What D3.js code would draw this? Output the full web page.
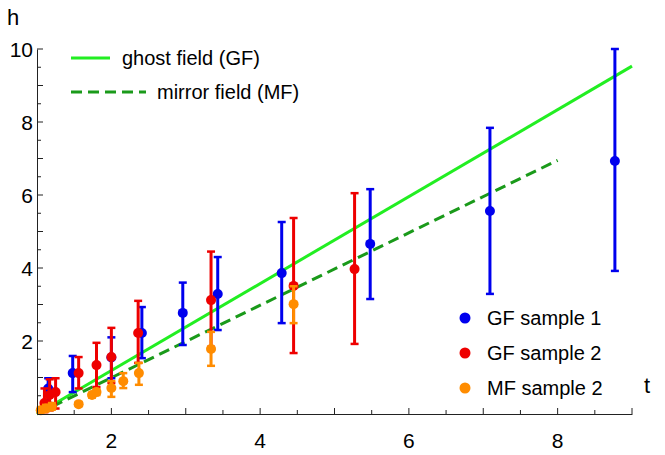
<!DOCTYPE html><html><head><meta charset="utf-8">
<script src="https://d3js.org/d3.v7.min.js"></script>
<style>body{margin:0;background:#fff}text{font-family:"Liberation Sans",Arial,sans-serif}</style></head><body>
<svg id="c" width="665" height="455"></svg>
<script>
// [t, h, lower, upper]
const gf1 = [[1.15,0.7,0.3,0.98],[1.48,1.12,0.6,1.59],[2.0,1.55,0.98,2.1],[2.41,2.22,1.53,2.93],[2.96,2.77,1.89,3.6],[3.43,3.29,2.3,4.3],[4.29,3.86,2.49,5.26],[5.48,4.66,3.15,6.16],[7.09,5.56,3.29,7.84],[8.77,6.93,3.92,10.0]];
const gf2 = [[1.1,0.3,0.05,0.7],[1.17,0.52,0.1,0.95],[1.25,0.6,0.15,0.98],[1.56,1.12,0.7,1.56],[1.8,1.34,0.74,1.95],[2.0,1.56,0.85,2.36],[2.36,2.22,1.4,3.1],[3.34,3.12,1.84,4.45],[4.45,3.51,1.67,5.37],[5.27,3.97,1.92,6.05]];
const mf2 = [[1.05,0.1,0.05,0.18],[1.12,0.15,0.08,0.25],[1.2,0.2,0.12,0.3],[1.56,0.27,0.22,0.32],[1.74,0.52,0.45,0.58],[1.8,0.6,0.52,0.68],[2.0,0.71,0.47,0.9],[2.16,0.9,0.71,1.12],[2.37,1.12,0.8,1.4],[3.34,1.78,1.32,2.25],[4.45,3.01,2.49,3.5]];
const gfLine = [[1,0],[9,9.53]];
const mfLine = [[1,0],[8,6.95]];
const xTicks = [2,4,6,8], yTicks = [2,4,6,8,10];
const series = [{name:"GF sample 1",data:gf1,color:"#0000ee"},{name:"GF sample 2",data:gf2,color:"#ee0000"},{name:"MF sample 2",data:mf2,color:"#ff8c00"}];

const svg = d3.select("#c");
const x = d3.scaleLinear().domain([1,9]).range([37,632]);
const y = d3.scaleLinear().domain([0,10]).range([414,49]);
const g = svg.append("g");
// axes
const xa = svg.append("g").attr("transform","translate(0,414)");
xa.call(d3.axisBottom(x).tickValues([]).tickSize(0));
xa.selectAll("line.mn").data(d3.range(1.5,9.01,0.5)).join("line").attr("x1",d=>x(d)).attr("x2",d=>x(d)).attr("y1",0).attr("y2",d=>Number.isInteger(d)?-6:-4).attr("stroke","#222");
xa.selectAll("text.tl").data(xTicks).join("text").attr("x",d=>x(d)).attr("y",34).attr("fill","#000").attr("text-anchor","middle").attr("font-size",21).attr("font-family","Liberation Sans, Arial, sans-serif").text(d=>d);
const ya = svg.append("g").attr("transform","translate(37,0)");
ya.call(d3.axisLeft(y).tickValues([]).tickSize(0));
ya.selectAll("line.mn").data(d3.range(0.5,10.01,0.5)).join("line").attr("y1",d=>y(d)).attr("y2",d=>y(d)).attr("x1",0).attr("x2",d=>Number.isInteger(d)?6:4).attr("stroke","#222");
ya.selectAll("text.tl").data(yTicks).join("text").attr("x",-4).attr("y",d=>y(d)+8).attr("fill","#000").attr("text-anchor","end").attr("font-size",21).attr("font-family","Liberation Sans, Arial, sans-serif").text(d=>d);
svg.selectAll(".domain").attr("stroke","#222");
svg.append("text").attr("x",7).attr("y",25).attr("font-size",22).text("h");
svg.append("text").attr("x",644).attr("y",393).attr("font-size",22).text("t");
// lines
const ln = d3.line().x(d=>x(d[0])).y(d=>y(d[1]));
g.append("path").attr("d",ln(gfLine)).attr("stroke","#22ee22").attr("stroke-width",3).attr("fill","none");
g.append("path").attr("d",ln(mfLine)).attr("stroke","#1a9a1a").attr("stroke-width",3).attr("stroke-dasharray","11,6").attr("fill","none");
// points
series.forEach(s=>{
  const sg = g.append("g").attr("stroke",s.color).attr("fill",s.color);
  s.data.forEach(d=>{
    sg.append("line").attr("x1",x(d[0])).attr("x2",x(d[0])).attr("y1",y(d[2])).attr("y2",y(d[3])).attr("stroke-width",3);
    [d[2],d[3]].forEach(v=>sg.append("line").attr("x1",x(d[0])-4).attr("x2",x(d[0])+4).attr("y1",y(v)).attr("y2",y(v)).attr("stroke-width",2.5));
    sg.append("circle").attr("cx",x(d[0])).attr("cy",y(d[1])).attr("r",5).attr("stroke","none");
  });
});
// legends
const lg = svg.append("g");
lg.append("line").attr("x1",71).attr("x2",110).attr("y1",58).attr("y2",58).attr("stroke","#22ee22").attr("stroke-width",3);
lg.append("text").attr("x",122).attr("y",65).attr("font-size",20).text("ghost field (GF)");
lg.append("line").attr("x1",71).attr("x2",146).attr("y1",92).attr("y2",92).attr("stroke","#1a9a1a").attr("stroke-width",3).attr("stroke-dasharray","11,6");
lg.append("text").attr("x",157).attr("y",99).attr("font-size",20).text("mirror field (MF)");
series.forEach((s,i)=>{
  lg.append("circle").attr("cx",465).attr("cy",318+i*35).attr("r",5.5).attr("fill",s.color);
  lg.append("text").attr("x",487).attr("y",325+i*35).attr("font-size",20).text(s.name);
});
</script></body></html>
